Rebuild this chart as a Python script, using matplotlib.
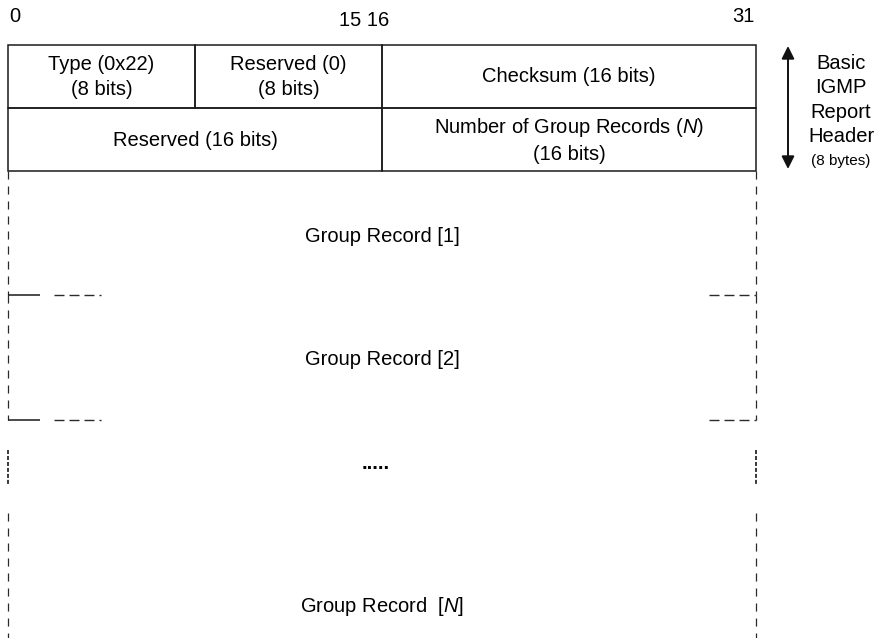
import numpy as np
import matplotlib.pyplot as plt

plt.rcParams['font.family'] = ['Liberation Sans', 'DejaVu Sans']
plt.rcParams['mathtext.fontset'] = 'custom'
plt.rcParams['mathtext.rm'] = 'Liberation Sans'
plt.rcParams['mathtext.it'] = 'Liberation Sans:italic'
plt.rcParams['lines.scale_dashes'] = False

# header fields, widths in bits
row1_labels = ['Type (0x22)\n(8 bits)', 'Reserved (0)\n(8 bits)', 'Checksum (16 bits)']
row1_bits = [8, 8, 16]
row2_labels = ['Reserved (16 bits)', 'Number of Group Records ($N$)\n(16 bits)']
row2_bits = [16, 16]

bit_ticks = ['0', '15 16', '31']
record_labels = ['Group Record [1]', 'Group Record [2]', 'Group Record  [$N$]']
side_label = 'Basic\nIGMP\nReport\nHeader'
side_note = '(8 bytes)'

# layout (pixels)
W, H = 881, 638
X0, X1 = 8, 756
BIT = (X1 - X0) / 32
ROW_Y = [45, 108, 171]
REC_Y = [171, 295, 420]
GAP_Y = (450, 484)
LAST_Y = 513
TICK_X = [15, 364, 743]
TICK_Y = [16, 21, 16]

FS = 14.5
LINE = '#1a1a1a'
DASH = '#2a2a2a'
VDASH = (0, (5.8, 5))
HDASH = (0, (7.2, 3.6))


def draw_row(ax, labels, bits, y0, y1):
    x = X0
    for lab, b in zip(labels, bits):
        ax.add_patch(plt.Rectangle((x, y0), b * BIT, y1 - y0, fill=False, ec=LINE, lw=1.1))
        ax.text(x + b * BIT / 2, (y0 + y1) / 2 + 0.5, lab, ha='center', va='center',
                fontsize=FS, linespacing=1.45)
        x += b * BIT


def separator(ax, y):
    # left: short solid stub then dashes, right: dashes only
    ax.plot([X0, 40], [y, y], color=LINE, lw=1.1, solid_capstyle='butt')
    ax.plot([54, 101], [y, y], color=DASH, lw=1.0, ls=HDASH)
    ax.plot([709, X1], [y, y], color=DASH, lw=1.0, ls=HDASH)


def side_dashes(ax, y0, y1, ls=VDASH, lw=0.9):
    for x in (X0, X1):
        ax.plot([x, x], [y0, y1], color=DASH, lw=lw, ls=ls)


fig = plt.figure(figsize=(W / 100, H / 100), dpi=100)
ax = fig.add_axes([0, 0, 1, 1])
ax.set_xlim(0, W)
ax.set_ylim(H, 0)
ax.axis('off')

for lab, x, y in zip(bit_ticks, TICK_X, TICK_Y):
    ax.text(x, y, lab, ha='center', va='center', fontsize=FS)

draw_row(ax, row1_labels, row1_bits, ROW_Y[0], ROW_Y[1])
draw_row(ax, row2_labels, row2_bits, ROW_Y[1], ROW_Y[2])

# group records
side_dashes(ax, REC_Y[0], REC_Y[1])
side_dashes(ax, REC_Y[1], REC_Y[2])
separator(ax, REC_Y[1])
separator(ax, REC_Y[2])
ax.text((X0 + X1) / 2, (REC_Y[0] + REC_Y[1]) / 2 + 3, record_labels[0],
        ha='center', va='center', fontsize=FS)
ax.text((X0 + X1) / 2, (REC_Y[1] + REC_Y[2]) / 2 + 2, record_labels[1],
        ha='center', va='center', fontsize=FS)

# ellipsis stretch
side_dashes(ax, GAP_Y[0], GAP_Y[1], ls=(0, (2.9, 1.4)), lw=1.3)
ax.text((X0 + X1) / 2 - 6, 469, '.....', ha='center', va='baseline',
        fontsize=FS, fontweight='bold')

side_dashes(ax, LAST_Y, H)
ax.text((X0 + X1) / 2, 607, record_labels[2], ha='center', va='center', fontsize=FS)

# header size arrow
ax.annotate('', xy=(788, 46), xytext=(788, 169),
            arrowprops=dict(arrowstyle='<|-|>', lw=1.4, color='#111111', mutation_scale=19,
                            shrinkA=0, shrinkB=0))
ax.text(841, 100, side_label, ha='center', va='center', fontsize=FS, linespacing=1.36)
ax.text(841, 161, side_note, ha='center', va='center', fontsize=11)

fig.savefig('out.png', dpi=100)
